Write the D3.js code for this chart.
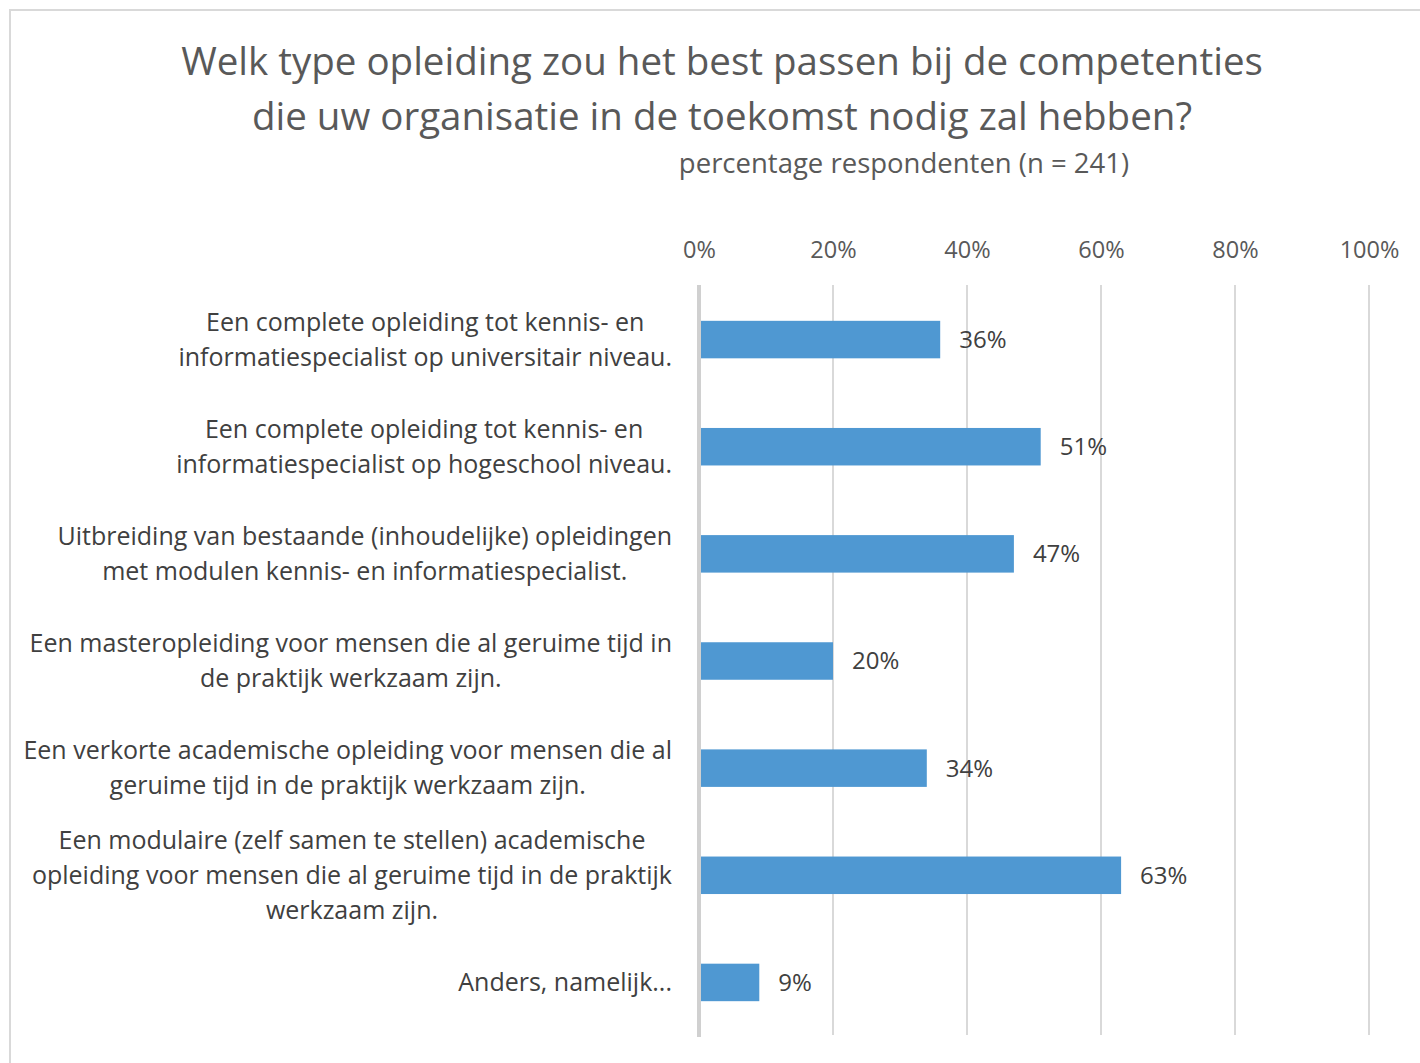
<!DOCTYPE html>
<html><head><meta charset="utf-8">
<script src="https://cdn.jsdelivr.net/npm/d3@7"></script>
<style>
html,body{margin:0;padding:0;background:#fff;}
svg{display:block;font-family:"Open Sans", Lato, sans-serif;}
</style></head>
<body>
<svg id="chart" width="1420" height="1063"></svg>
<script>
const titleLines = ["Welk type opleiding zou het best passen bij de competenties", "die uw organisatie in de toekomst nodig zal hebben?"];
const subtitle = "percentage respondenten (n = 241)";
const categories = [
  "Een complete opleiding tot kennis- en\ninformatiespecialist op universitair niveau.",
  "Een complete opleiding tot kennis- en\ninformatiespecialist op hogeschool niveau.",
  "Uitbreiding van bestaande (inhoudelijke) opleidingen\nmet modulen kennis- en informatiespecialist.",
  "Een masteropleiding voor mensen die al geruime tijd in\nde praktijk werkzaam zijn.",
  "Een verkorte academische opleiding voor mensen die al\ngeruime tijd in de praktijk werkzaam zijn.",
  "Een modulaire (zelf samen te stellen) academische\nopleiding voor mensen die al geruime tijd in de praktijk\nwerkzaam zijn.",
  "Anders, namelijk..."
];
const values = [36, 51, 47, 20, 34, 63, 9];
const tickValues = [0, 20, 40, 60, 80, 100];

const svg = d3.select("#chart");
// outer border
svg.append("rect").attr("x", 10).attr("y", 10).attr("width", 1420).attr("height", 1063)
  .attr("fill", "none").attr("stroke", "#d9d9d9").attr("stroke-width", 2);

const x = d3.scaleLinear().domain([0, 100]).range([699, 1369]);
const y = d3.scaleBand().domain(categories).range([286, 1036]).paddingInner(0.65).paddingOuter(0.325);

// title
svg.append("g").selectAll("text").data(titleLines).join("text")
  .attr("x", 722).attr("y", (d, i) => 75 + i * 55)
  .attr("text-anchor", "middle").attr("fill", "#595959")
  .style("font-size", "38.5px").text(d => d);
svg.append("text").attr("x", 904).attr("y", 173).attr("text-anchor", "middle")
  .attr("fill", "#595959").style("font-size", "27.5px").text(subtitle);

// gridlines
const grid = svg.append("g");
grid.selectAll("line").data(tickValues.slice(1)).join("line")
  .attr("x1", d => x(d)).attr("x2", d => x(d)).attr("y1", 285).attr("y2", 1035)
  .attr("stroke", "#d9d9d9").attr("stroke-width", 2);

// top axis labels
const axis = d3.axisTop(x).tickValues(tickValues).tickFormat(d => d + "%").tickSize(0).tickPadding(0);
const ag = svg.append("g").attr("transform", "translate(0,258)").call(axis);
ag.select(".domain").remove();
ag.selectAll("text").attr("fill", "#595959").style("font-size", "23.5px").style("font-family", "'Open Sans', sans-serif");

// bars
svg.append("g").selectAll("rect").data(values).join("rect")
  .attr("x", x(0)).attr("y", (d, i) => y(categories[i]))
  .attr("width", d => x(d) - x(0)).attr("height", y.bandwidth())
  .attr("fill", "#4f98d2");

// zero axis line
svg.append("line").attr("x1", x(0)).attr("x2", x(0)).attr("y1", 285).attr("y2", 1037)
  .attr("stroke", "#d0d0d0").attr("stroke-width", 4);

// value labels
svg.append("g").selectAll("text").data(values).join("text")
  .attr("x", d => x(d) + 19).attr("y", (d, i) => y(categories[i]) + y.bandwidth() / 2)
  .attr("dy", "0.35em").attr("fill", "#404040").style("font-size", "24px")
  .text(d => d + "%");

// category labels
const lh = 35;
const lg = svg.append("g").selectAll("text").data(categories).join("text")
  .attr("text-anchor", "end").attr("fill", "#404040").style("font-size", "25px")
  .attr("transform", (d, i) => `translate(672,${y(d) + y.bandwidth() / 2})`);
lg.each(function(d) {
  const lines = d.split("\n");
  const t = d3.select(this);
  lines.forEach((ln, j) => {
    t.append("tspan").attr("x", 0)
      .attr("y", (j - (lines.length - 1) / 2) * lh)
      .attr("dy", "0.35em")
      .attr("text-anchor", lines.length > 1 ? "middle" : "end")
      .text(ln);
  });
});
// multi-line labels are centered on their block whose right edge is at 672
lg.each(function(d) {
  const lines = d.split("\n");
  if (lines.length > 1) {
    const t = d3.select(this);
    const w = this.getBBox().width;
    t.selectAll("tspan").attr("x", -w / 2);
  }
});
</script>
</body></html>
